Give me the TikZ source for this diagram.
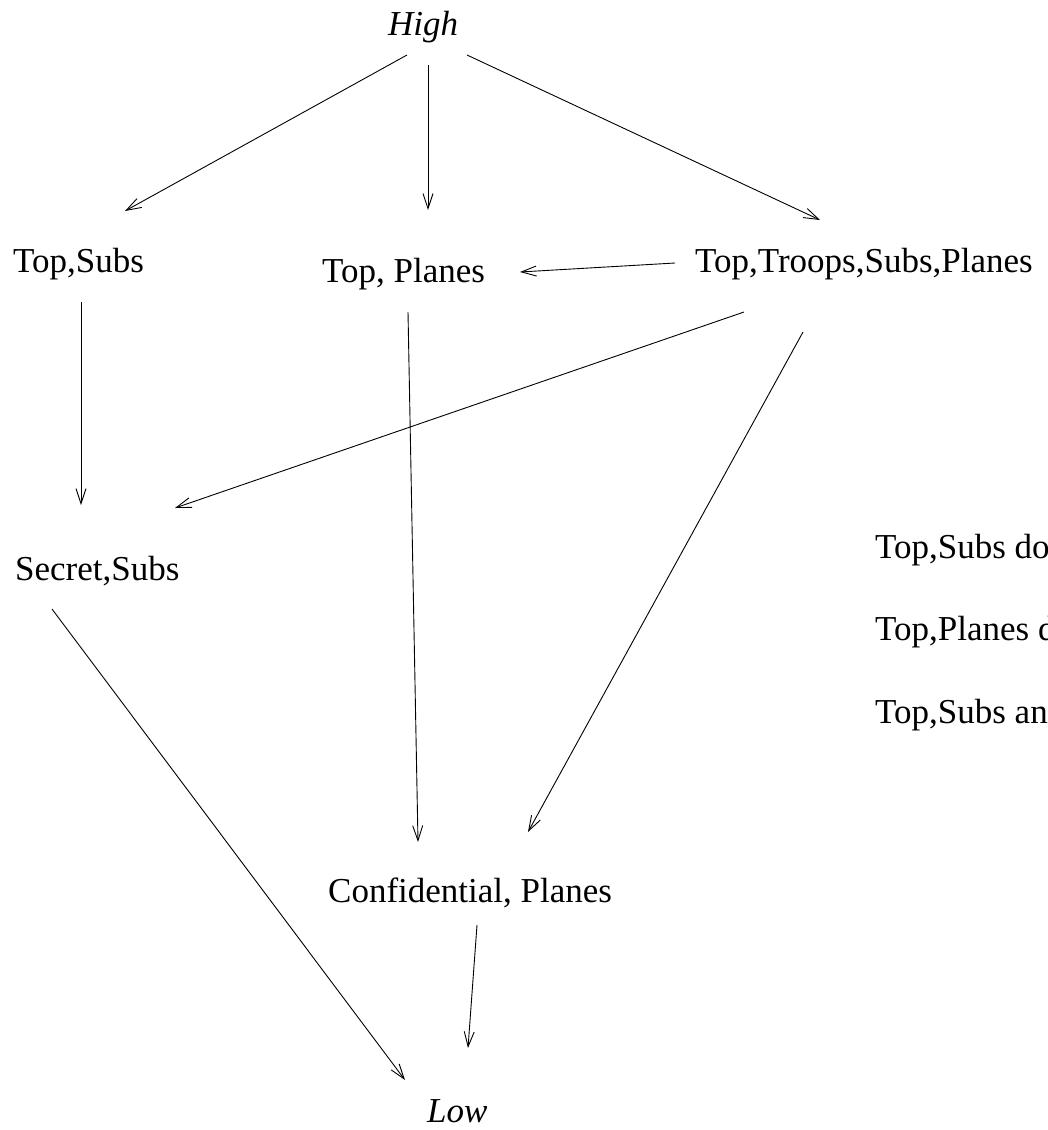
\documentclass[tikz,border=0pt]{standalone}
\usepackage{fontspec}
\setmainfont{Liberation Serif}
\usetikzlibrary{arrows.meta}
\begin{document}
\begin{tikzpicture}[x=1pt,y=-1pt,
  lbl/.style={anchor=base west,inner sep=0pt,font=\fontsize{35}{42}\selectfont},
  ilbl/.style={lbl,font=\fontsize{35}{42}\selectfont\itshape},
  arr/.style={line width=0.9pt,-{Straight Barb[length=15pt,width=10pt,line width=0.9pt]}}]
\useasboundingbox (0,0) rectangle (1047,1130);
\clip (0,0) rectangle (1047,1130);
\node[ilbl] (high) at (388,35) {High};
\node[lbl] (tsubs) at (13,272) {Top,Subs};
\node[lbl] (tplanes) at (322,282) {Top, Planes};
\node[lbl] (ttsp) at (695,272) {Top,Troops,Subs,Planes};
\node[lbl] (secret) at (15,580) {Secret,Subs};
\node[lbl] (conf) at (328,902) {Confidential, Planes};
\node[ilbl] (low) at (427,1122) {Low};
\node[lbl] (note1) at (875,558) {Top,Subs do};
\node[lbl] (note2) at (875,640) {Top,Planes d};
\node[lbl] (note3) at (875,723) {Top,Subs an};
\draw[arr] ([shift={(19,20)}]high.base west) -- ([shift={(112,-61)}]tsubs.base west);
\draw[arr] ([shift={(40,30)}]high.base west) -- ([shift={(106,-72)}]tplanes.base west);
\draw[arr] ([shift={(79,20)}]high.base west) -- ([shift={(125,-52)}]ttsp.base west);
\draw[arr] ([shift={(-20,-9)}]ttsp.base west) -- ([shift={(198,-10)}]tplanes.base west);
\draw[arr] ([shift={(68,30)}]tsubs.base west) -- ([shift={(66,-75)}]secret.base west);
\draw[arr] ([shift={(49,40)}]ttsp.base west) -- ([shift={(160,-72)}]secret.base west);
\draw[arr] ([shift={(86,30)}]tplanes.base west) -- ([shift={(90,-60)}]conf.base west);
\draw[arr] ([shift={(108,60)}]ttsp.base west) -- ([shift={(200,-70)}]conf.base west);
\draw[arr] ([shift={(37,29)}]secret.base west) -- ([shift={(-22,-42)}]low.base west);
\draw[arr] ([shift={(149,23)}]conf.base west) -- ([shift={(41,-74)}]low.base west);
\end{tikzpicture}
\end{document}
